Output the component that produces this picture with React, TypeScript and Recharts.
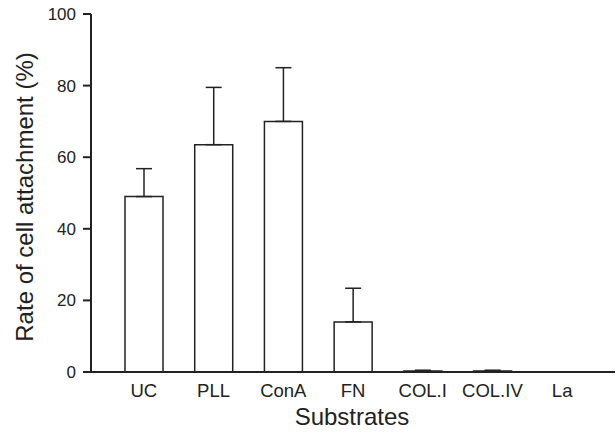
import React from 'react';
import { BarChart, Bar, XAxis, YAxis, ErrorBar } from 'recharts';

const categories = ['UC', 'PLL', 'ConA', 'FN', 'COL.I', 'COL.IV', 'La'];
const means = [49, 63.5, 70, 14, 0.3, 0.3, 0];
const errors = [7.8, 16, 15, 9.4, 0.2, 0.2, 0];
const yTicks = [0, 20, 40, 60, 80, 100];

const data = categories.map((name, i) => ({
  name,
  value: means[i],
  err: [0, errors[i]],
}));

const INK = '#222';
const FONT = '"Liberation Sans", Arial, sans-serif';

export default function App() {
  return (
    <div style={{ position: 'absolute', left: 0, top: 0, width: 616, height: 439, background: '#fff' }}>
      <BarChart
        width={616}
        height={439}
        data={data}
        margin={{ top: 14, right: 1, bottom: 0, left: 0 }}
        barSize={38}
      >
        <XAxis
          dataKey="name"
          height={67}
          padding={{ left: 18, right: 18 }}
          tickLine={false}
          tickSize={6}
          tickMargin={6}
          axisLine={{ stroke: INK, strokeWidth: 2 }}
          tick={{ fill: INK, fontSize: 18.5, fontFamily: FONT }}
          interval={0}
          label={{
            content: () => (
              <text x={352} y={425} textAnchor="middle" fill={INK} fontSize={24} fontFamily={FONT}>
                Substrates
              </text>
            ),
          }}
        />
        <YAxis
          width={91}
          domain={[0, 100]}
          ticks={yTicks}
          tickSize={8}
          tickMargin={7}
          axisLine={{ stroke: INK, strokeWidth: 2 }}
          tickLine={{ stroke: INK, strokeWidth: 2 }}
          tick={{ fill: INK, fontSize: 17, fontFamily: FONT }}
          label={{
            content: () => (
              <text
                x={33}
                y={197}
                transform="rotate(-90 33 197)"
                textAnchor="middle"
                fill={INK}
                fontSize={24}
                fontFamily={FONT}
              >
                Rate of cell attachment (%)
              </text>
            ),
          }}
        />
        <Bar dataKey="value" fill="#fff" stroke={INK} strokeWidth={1.5} isAnimationActive={false}>
          <ErrorBar dataKey="err" width={8} stroke={INK} strokeWidth={1.5} direction="y" />
        </Bar>
      </BarChart>
    </div>
  );
}
